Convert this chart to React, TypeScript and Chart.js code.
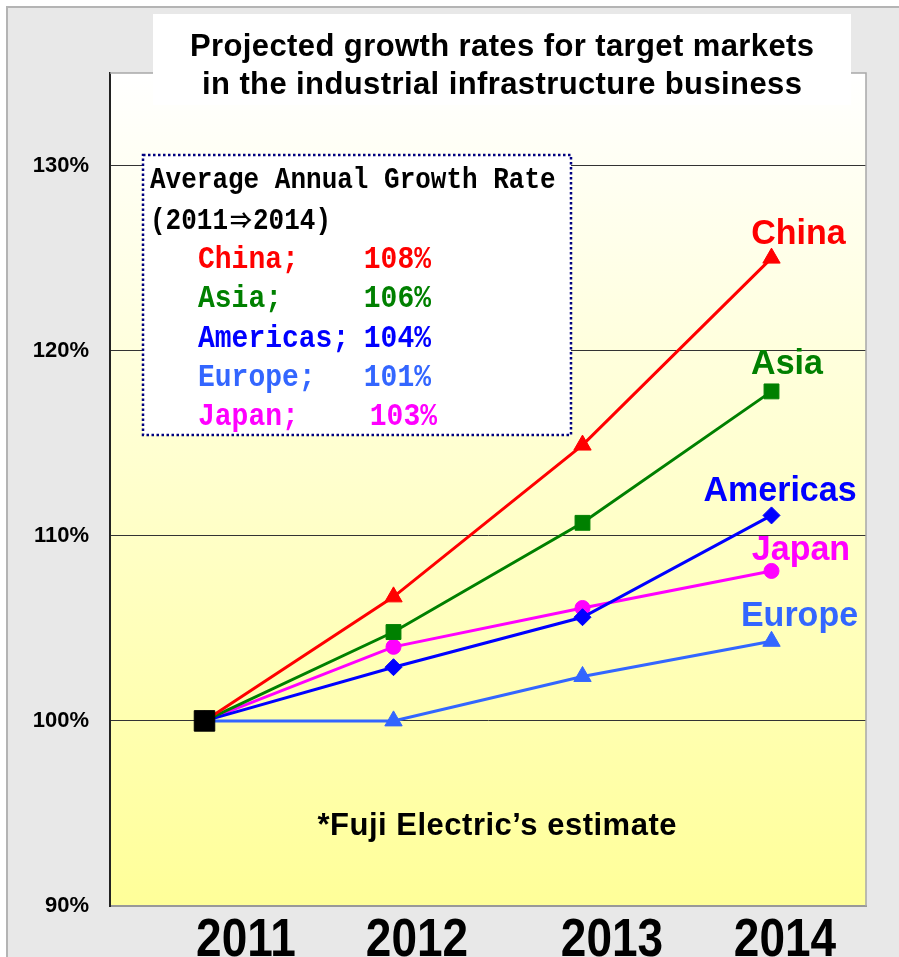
import React, { useEffect, useRef } from 'react';
import { Chart, registerables } from 'chart.js';

Chart.register(...registerables);

// ---------- data ----------
const YEARS = ['2011', '2012', '2013', '2014'];
const CHINA = [100, 106.7, 114.9, 125.0];
const ASIA = [100, 104.8, 110.7, 117.8];
const AMERICAS = [100, 102.9, 105.6, 111.1];
const JAPAN = [100, 104.0, 106.1, 108.1];
const EUROPE = [100, 100.0, 102.4, 104.3];
const BASE_2011 = [100, null, null, null];

const Y_MIN = 90;
const Y_MAX = 135;
const Y_STEP = 10;

const TITLE_LINES = [
  'Projected growth rates for target markets',
  'in the industrial infrastructure business',
];
const LEGEND_HEADER = 'Average Annual Growth Rate';
const LEGEND_PERIOD = ['(2011', '⇒', '2014)'];
const LEGEND_NAMES = ['China;', 'Asia;', 'Americas;', 'Europe;', 'Japan;'];
const LEGEND_RATES = [108, 106, 104, 101, 103];
const FOOTNOTE = '*Fuji Electric’s estimate';

// ---------- styles ----------
const C_CHINA = '#ff0000';
const C_ASIA = '#008000';
const C_AMER = '#0000ff';
const C_JAPAN = '#ff00ff';
const C_EUROPE = '#3366ff';
const LEGEND_COLORS = [C_CHINA, C_ASIA, C_AMER, C_EUROPE, C_JAPAN];

const SANS = '"Liberation Sans", Arial, sans-serif';
const MONO = '"Liberation Mono", "DejaVu Sans Mono", monospace';
const CJK = '"Noto Sans CJK JP", sans-serif';

function drawText(
  ctx: CanvasRenderingContext2D,
  s: string,
  x: number,
  y: number,
  font: string,
  color: string,
  align: CanvasTextAlign = 'left',
  ls = 0,
  sy = 1
): number {
  ctx.save();
  ctx.font = font;
  ctx.fillStyle = color;
  ctx.textAlign = align;
  ctx.textBaseline = 'alphabetic';
  (ctx as any).letterSpacing = ls + 'px';
  const shift = align === 'center' ? ls / 2 : align === 'right' ? ls : 0;
  const w = ctx.measureText(s).width;
  ctx.translate(x + shift, y);
  ctx.scale(1, sy);
  ctx.fillText(s, 0, 0);
  ctx.restore();
  return w;
}

const decor = {
  id: 'decor',
  beforeDraw(chart: any) {
    const { ctx, chartArea: a, width, height } = chart;
    ctx.save();
    ctx.fillStyle = '#ffffff';
    ctx.fillRect(0, 0, width, height);
    ctx.fillStyle = '#e8e8e8';
    ctx.fillRect(7, 7, width, height);
    ctx.strokeStyle = '#b4b4b4';
    ctx.lineWidth = 2;
    ctx.beginPath();
    ctx.moveTo(7, height);
    ctx.lineTo(7, 7);
    ctx.lineTo(width, 7);
    ctx.stroke();
    const g = ctx.createLinearGradient(0, a.top, 0, a.bottom);
    g.addColorStop(0, '#ffffff');
    g.addColorStop(1, '#ffff99');
    ctx.fillStyle = g;
    ctx.fillRect(a.left, a.top, a.right - a.left, a.bottom - a.top);
    ctx.restore();
  },
  beforeDatasetsDraw(chart: any) {
    const { ctx, chartArea: a } = chart;
    ctx.save();
    ctx.strokeStyle = '#a8a8a8';
    ctx.lineWidth = 1.5;
    ctx.beginPath();
    ctx.moveTo(a.left, a.top);
    ctx.lineTo(a.right, a.top);
    ctx.lineTo(a.right, a.bottom);
    ctx.stroke();
    ctx.fillStyle = '#ffffff';
    ctx.fillRect(153, 14, 698, 91);
    ctx.restore();
    drawText(ctx, TITLE_LINES[0], 502, 56, `bold 31px ${SANS}`, '#000', 'center', 0.4);
    drawText(ctx, TITLE_LINES[1], 502, 94, `bold 31px ${SANS}`, '#000', 'center', 0.4);

    // legend box
    ctx.save();
    ctx.fillStyle = '#ffffff';
    ctx.fillRect(143, 155, 428, 280);
    ctx.strokeStyle = '#000080';
    ctx.lineWidth = 2.5;
    ctx.setLineDash([2.5, 2.5]);
    ctx.strokeRect(143, 155, 428, 280);
    ctx.restore();
    const hdrFont = `bold 26px ${MONO}`;
    drawText(ctx, LEGEND_HEADER, 150, 188, hdrFont, '#000', 'left', 0, 1.12);
    let x = 150;
    x += drawText(ctx, LEGEND_PERIOD[0], x, 229, hdrFont, '#000', 'left', 0, 1.12) + 2;
    x += drawText(ctx, LEGEND_PERIOD[1], x, 228, `bold 22px ${CJK}`, '#000', 'left') + 1;
    drawText(ctx, LEGEND_PERIOD[2], x, 229, hdrFont, '#000', 'left', 0, 1.12);
    const baselines = [268, 307, 347, 386, 425];
    const valueRight = [431, 431, 431, 431, 437];
    LEGEND_NAMES.forEach((n, i) => {
      drawText(ctx, n, 198, baselines[i], `bold 28px ${MONO}`, LEGEND_COLORS[i], 'left', 0, 1.12);
      drawText(ctx, LEGEND_RATES[i] + '%', valueRight[i], baselines[i], `bold 28px ${MONO}`, LEGEND_COLORS[i], 'right', 0, 1.12);
    });
  },
  afterDatasetsDraw(chart: any) {
    const { ctx } = chart;
    const xs = chart.scales.x;
    const ys = chart.scales.y;
    const last = YEARS.length - 1;
    const px = xs.getPixelForValue(last);
    const endLabels: [string, number, string, number, number][] = [
      ['China', CHINA[last], C_CHINA, 27, -14],
      ['Asia', ASIA[last], C_ASIA, 15.5, -17],
      ['Americas', AMERICAS[last], C_AMER, 8.5, -14],
      ['Japan', JAPAN[last], C_JAPAN, 29.5, -11],
      ['Europe', EUROPE[last], C_EUROPE, 28, -15],
    ];
    endLabels.forEach(([t, v, c, dx, dy]) => {
      drawText(ctx, t, px + dx, ys.getPixelForValue(v) + dy, `bold 34px ${SANS}`, c, 'center', 0, 1.05);
    });
    drawText(ctx, FOOTNOTE, 497, 835, `bold 31px ${SANS}`, '#000', 'center', 0.5);
    const labelDx = [41.5, 23.5, 29.5, 13.5];
    YEARS.forEach((y, i) => {
      drawText(ctx, y, xs.getPixelForValue(i) + labelDx[i], 956, `bold 46px ${SANS}`, '#000', 'center', 0, 1.15);
    });
  },
};

function series(label: string, data: (number | null)[], color: string, style: string, radius: number) {
  return {
    label,
    data,
    borderColor: color,
    backgroundColor: color,
    pointBackgroundColor: color,
    pointBorderColor: color,
    borderWidth: 3,
    pointStyle: style,
    pointRadius: radius,
    pointBorderWidth: 1,
    tension: 0,
    spanGaps: false,
  };
}

export default function App() {
  const ref = useRef<HTMLCanvasElement>(null);
  useEffect(() => {
    if (!ref.current) return;
    const chart = new Chart(ref.current, {
      type: 'line',
      data: {
        labels: YEARS,
        datasets: [
          series('2011', BASE_2011, '#000000', 'rect', 14.5),
          series('China', CHINA, C_CHINA, 'triangle', 10),
          series('Asia', ASIA, C_ASIA, 'rect', 10.5),
          series('Americas', AMERICAS, C_AMER, 'rectRot', 8.5),
          series('Japan', JAPAN, C_JAPAN, 'circle', 7.5),
          series('Europe', EUROPE, C_EUROPE, 'triangle', 10),
        ] as any,
      },
      options: {
        responsive: false,
        animation: false,
        devicePixelRatio: 1,
        layout: { padding: { left: 0, top: 73, right: 33, bottom: 0 } },
        plugins: {
          legend: { display: false },
          tooltip: { enabled: false },
          title: { display: false },
        },
        scales: {
          x: {
            type: 'category',
            offset: true,
            grid: { display: false, drawTicks: false },
            border: { display: true, color: '#999999', width: 2 },
            ticks: { display: false },
            afterFit: (s: any) => {
              s.height = 51;
            },
          },
          y: {
            min: Y_MIN,
            max: Y_MAX,
            ticks: {
              stepSize: Y_STEP,
              padding: 21,
              color: '#000',
              font: { family: SANS, size: 22, weight: 'bold' },
              callback: (v: any) => v + '%',
            },
            afterBuildTicks: (axis: any) => {
              axis.ticks = axis.ticks.filter((t: any) => t.value % Y_STEP === 0);
            },
            grid: {
              drawTicks: false,
              color: (c: any) => (c.tick && c.tick.value === Y_MIN ? 'rgba(0,0,0,0)' : '#333333'),
              lineWidth: 1,
            },
            border: { display: true, color: '#222222', width: 2 },
            afterFit: (s: any) => {
              s.width = 110;
            },
          },
        },
      } as any,
      plugins: [decor],
    });
    return () => chart.destroy();
  }, []);
  return (
    <div style={{ position: 'absolute', left: 0, top: 0, width: 899, height: 957 }}>
      <canvas ref={ref} width={899} height={957} style={{ display: 'block' }} />
    </div>
  );
}
